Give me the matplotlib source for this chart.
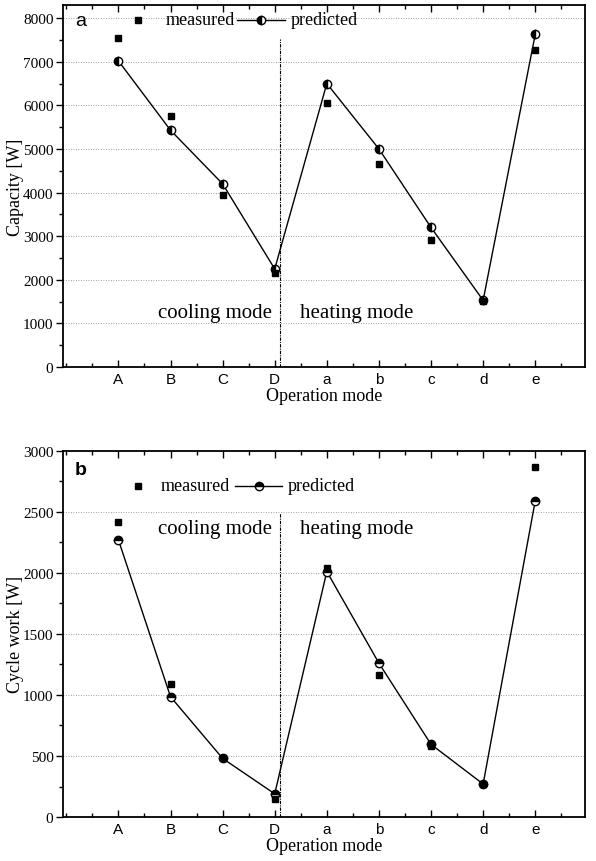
import numpy as np
import matplotlib.pyplot as plt
from matplotlib.ticker import MultipleLocator

modes = ['A', 'B', 'C', 'D', 'a', 'b', 'c', 'd', 'e']

cap_meas = [7550, 5750, 3950, 2150, 6050, 4650, 2920, 1520, 7280]
cap_pred = [7020, 5430, 4200, 2250, 6500, 5000, 3200, 1530, 7630]

work_meas = [2420, 1090, 480, 150, 2040, 1160, 580, 270, 2870]
work_pred = [2270, 985, 480, 190, 2010, 1260, 595, 270, 2590]

serif = 'Liberation Serif'
sans = 'Liberation Sans'

fig = plt.figure(figsize=(5.96, 8.62), dpi=100)
ax1 = fig.add_axes([0.106, 0.573, 0.876, 0.420])
ax2 = fig.add_axes([0.106, 0.051, 0.876, 0.425])

x = np.arange(1, len(modes) + 1)


def style(ax, ymax, ymaj, ymin, ylabel, vtop):
    ax.set_xlim(-0.06, 9.96)
    ax.set_ylim(0, ymax)
    ax.set_xticks(x)
    ax.set_xticklabels(modes, fontfamily=sans, fontsize=11)
    ax.xaxis.set_minor_locator(MultipleLocator(0.5))
    ax.yaxis.set_major_locator(MultipleLocator(ymaj))
    ax.yaxis.set_minor_locator(MultipleLocator(ymin))
    for lab in ax.get_yticklabels():
        lab.set_fontfamily(serif)
        lab.set_fontsize(11)
    ax.tick_params(which='both', direction='in', top=True, right=False)
    ax.tick_params(which='major', length=5, width=1)
    ax.tick_params(which='minor', length=3, width=1)
    ax.tick_params(axis='y', which='both', direction='out', left=True, pad=2)
    for s in ax.spines.values():
        s.set_linewidth(1.3)
    ax.yaxis.grid(True, linestyle=(0, (1, 2)), color='gray', linewidth=0.6)
    ax.set_axisbelow(True)
    ax.set_xlabel('Operation mode', fontfamily=serif, fontsize=13, labelpad=1)
    ax.set_ylabel(ylabel, fontfamily=serif, fontsize=13, labelpad=-1)
    ax.axvline(4.1, ymax=vtop, color='black', linestyle=(0, (3, 1, 1, 1)), linewidth=0.8)


def legend(ax, y, fill, sq, txt1, l0, l1, txt2):
    ax.plot([sq], [y], 's', color='black', markersize=5, transform=ax.transAxes)
    ax.text(txt1, y, 'measured', transform=ax.transAxes, fontfamily=serif,
            fontsize=13, va='center')
    ax.plot([l0, l1], [y, y], '-', color='black', linewidth=1.0,
            transform=ax.transAxes)
    ax.plot([(l0 + l1) / 2], [y], 'o', markersize=6, fillstyle=fill,
            markerfacecolor='black', markerfacecoloralt='white',
            markeredgecolor='black', transform=ax.transAxes)
    ax.text(txt2, y, 'predicted', transform=ax.transAxes, fontfamily=serif,
            fontsize=13, va='center')


def series(ax, pred, meas, fill):
    ax.plot(x, pred, '-', color='black', linewidth=1.0, marker='o',
            markersize=6, fillstyle=fill, markerfacecolor='black',
            markerfacecoloralt='white', markeredgecolor='black', zorder=3)
    ax.plot(x, meas, 's', color='black', markersize=5, linestyle='none', zorder=4)


# panel a
style(ax1, 8300, 1000, 500, 'Capacity [W]', 0.905)
series(ax1, cap_pred, cap_meas, 'left')
ax1.text(0.022, 0.957, 'a', transform=ax1.transAxes, fontfamily=sans,
         fontsize=14, va='center', ha='left')
legend(ax1, 0.959, 'left', 0.144, 0.197, 0.333, 0.425, 0.435)
ax1.text(2.86, 1260, 'cooling mode', fontfamily=serif, fontsize=15, ha='center', va='center')
ax1.text(5.57, 1260, 'heating mode', fontfamily=serif, fontsize=15, ha='center', va='center')

# panel b
style(ax2, 3000, 500, 250, 'Cycle work [W]', 0.83)
series(ax2, work_pred, work_meas, 'top')
ax2.text(0.022, 0.95, 'b', transform=ax2.transAxes, fontfamily=sans,
         fontsize=14, fontweight='bold', va='center', ha='left')
legend(ax2, 0.904, 'top', 0.144, 0.186, 0.33, 0.42, 0.43)
ax2.text(2.86, 2360, 'cooling mode', fontfamily=serif, fontsize=15, ha='center', va='center')
ax2.text(5.57, 2360, 'heating mode', fontfamily=serif, fontsize=15, ha='center', va='center')

fig.savefig('out.png', dpi=100)
